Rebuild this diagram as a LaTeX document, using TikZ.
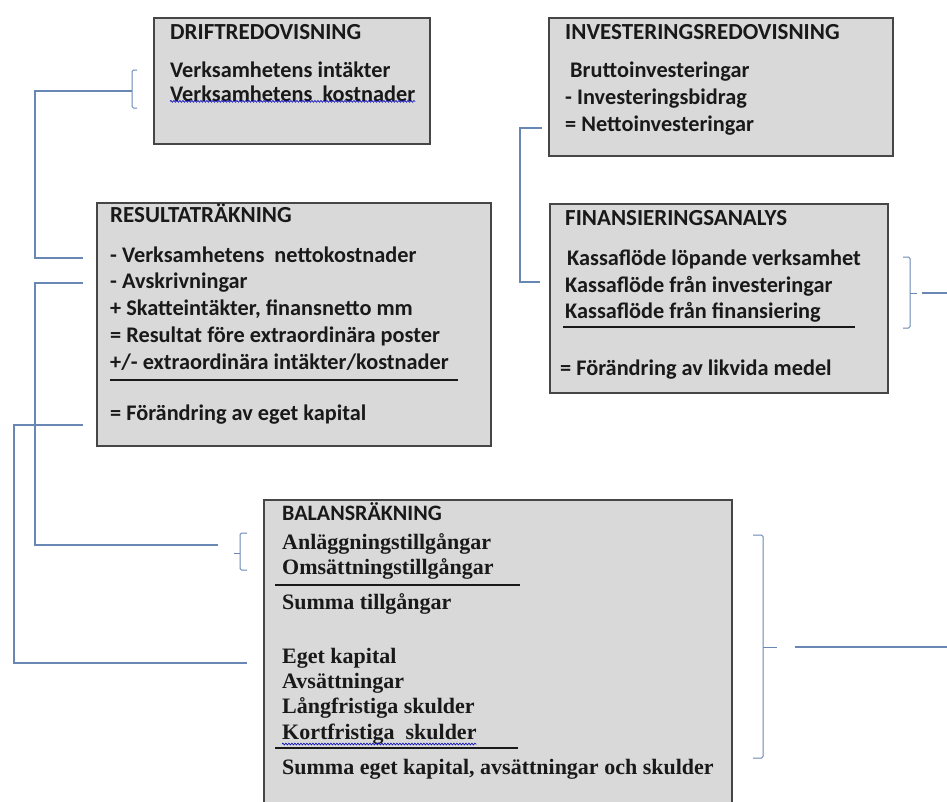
\documentclass[tikz,border=0pt]{standalone}
\usepackage{xcolor}
\usepackage{fontspec}
\setmainfont{Carlito}
\newfontfamily\serifbold{Liberation Serif}
\usetikzlibrary{decorations.pathmorphing}
\definecolor{boxgray}{RGB}{217,217,217}
\definecolor{boxedge}{RGB}{70,70,70}
\definecolor{linkblue}{RGB}{105,135,180}
\definecolor{inkdark}{RGB}{25,25,25}

\begin{document}
\begin{tikzpicture}[x=1pt,y=-1pt,
  box/.style={draw=boxedge,line width=1.6pt,fill=boxgray,anchor=north west,inner sep=0pt},
  txt/.style={anchor=base west,inner sep=0pt,text=inkdark,font=\bfseries\fontsize{22.3}{26}\selectfont},
  head/.style={txt,font=\bfseries\fontsize{23}{27}\selectfont},
  stxt/.style={txt,font=\serifbold\bfseries\fontsize{22}{26}\selectfont},
  link/.style={draw=linkblue,line width=1.2pt},
  brak/.style={draw=linkblue,line width=1pt,rounded corners=1.5pt},
  sumline/.style={draw=inkdark,line width=1.2pt},
  wavy/.style={draw=blue!75!black,line width=0.6pt,decorate,decoration={snake,amplitude=0.9pt,segment length=3pt}}]
\useasboundingbox (0,0) rectangle (947,801);

\node[box,minimum width=276pt,minimum height=126pt] (drift) at (153,17) {};
\node[box,minimum width=344pt,minimum height=138pt] (invest) at (548,17) {};
\node[box,minimum width=394pt,minimum height=243pt] (result) at (96,202) {};
\node[box,minimum width=338pt,minimum height=189pt] (finans) at (549,203) {};
\node[box,minimum width=468pt,minimum height=320pt] (balans) at (263,499) {};

\node[head] (driftHead) at (170,39) {DRIFTREDOVISNING};
\node[txt] (driftIn) at (170,77) {Verksamhetens intäkter};
\node[txt] (driftKost) at (170,101) {Verksamhetens\ \ kostnader};
\draw[wavy] (driftKost.south west) -- (driftKost.south east);

\node[head] (investHead) at (565,39) {INVESTERINGSREDOVISNING};
\node[txt] (investBrutto) at (570,77) {Bruttoinvesteringar};
\node[txt] (investBidrag) at (565,104) {- Investeringsbidrag};
\node[txt] (investNetto) at (565,131) {= Nettoinvesteringar};

\node[head] (resultHead) at (110,222) {RESULTATRÄKNING};
\node[txt] (resultNetto) at (110,262) {- Verksamhetens\ \ nettokostnader};
\node[txt] (resultAvskr) at (110,288) {- Avskrivningar};
\node[txt] (resultSkatt) at (110,315) {+ Skatteintäkter, finansnetto mm};
\node[txt] (resultFore) at (110,342) {= Resultat före extraordinära poster};
\node[txt] (resultExtra) at (110,369) {+/- extraordinära intäkter/kostnader};
\draw[sumline] (110,380) -- (458,380);
\node[txt] (resultEget) at (110,420) {= Förändring av eget kapital};

\node[head] (finansHead) at (565,225) {FINANSIERINGSANALYS};
\node[txt] (finansLop) at (567,265) {Kassaflöde löpande verksamhet};
\node[txt] (finansInv) at (565,292) {Kassaflöde från investeringar};
\node[txt] (finansFin) at (565,318) {Kassaflöde från finansiering};
\draw[sumline] (563,327) -- (855,327);
\node[txt] (finansLikv) at (560,375) {= Förändring av likvida medel};

\node[head,font=\bfseries\fontsize{22}{26}\selectfont] (balansHead) at (282,520) {BALANSRÄKNING};
\node[stxt] (balansAnl) at (282,549) {Anläggningstillgångar};
\node[stxt] (balansOms) at (282,574) {Omsättningstillgångar};
\draw[sumline] (275,585) -- (520,585);
\node[stxt] (balansSumT) at (282,609) {Summa tillgångar};
\node[stxt] (balansEget) at (282,663) {Eget kapital};
\node[stxt] (balansAvs) at (282,688) {Avsättningar};
\node[stxt] (balansLang) at (282,713) {Långfristiga skulder};
\node[stxt] (balansKort) at (282,739) {Kortfristiga\ \ skulder};
\draw[wavy] (balansKort.south west) -- (balansKort.south east);
\draw[sumline] (275,748) -- (518,748);
\node[stxt] (balansSumE) at (282,774) {Summa eget kapital, avsättningar och skulder};

\draw[brak] (137,70) -- (132,70) -- (132,108) -- (137,108);
\draw[brak] (247,533) -- (240,533) -- (240,570) -- (247,570);
\draw[brak] (903,257) -- (910,257) -- (910,328) -- (903,328);
\draw[brak] (753,535) -- (763,535) -- (763,758) -- (753,758);
\draw[brak] (240,553) -- (234,553);
\draw[brak] (910,293) -- (917,293);
\draw[brak] (763,647) -- (777,647);

\coordinate (driftTap) at (132,91);
\coordinate (nettoTap) at (83,258);
\coordinate (nettoinvTap) at (542,128);
\coordinate (kassaTap) at (540,282);
\coordinate (avskrTap) at (83,283);
\coordinate (anlTap) at (218,545);
\coordinate (egetTap) at (83,425);
\coordinate (kapitalTap) at (247,663);
\coordinate (finansOut) at (922,293);
\coordinate (finansEnd) at (947,293);
\coordinate (balansOut) at (795,647);
\coordinate (balansEnd) at (947,647);

\draw[link] (driftTap) -- (35,91) |- (nettoTap);
\draw[link] (nettoinvTap) -- (520,128) |- (kassaTap);
\draw[link] (avskrTap) -- (35,283) |- (anlTap);
\draw[link] (egetTap) -- (14,425) |- (kapitalTap);
\draw[link] (finansOut) -- (finansEnd);
\draw[link] (balansOut) -- (balansEnd);
\end{tikzpicture}
\end{document}
